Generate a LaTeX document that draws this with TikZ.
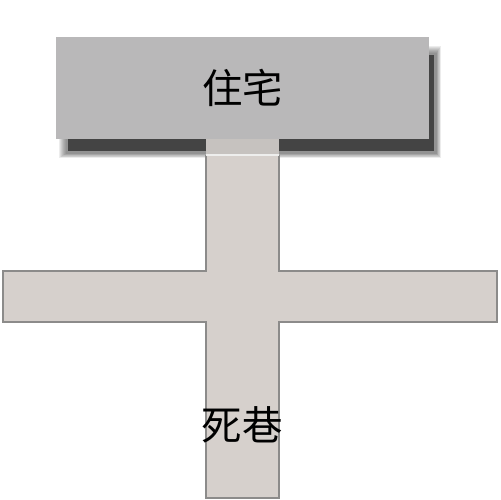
\documentclass[tikz,border=0pt]{standalone}
\usepackage{fontspec}
\newfontfamily\cjk{Noto Sans CJK SC}
\definecolor{housegray}{HTML}{B9B8B9}
\definecolor{shadowgray}{HTML}{444444}
\definecolor{lanefill}{HTML}{D6D0CC}
\definecolor{laneedge}{HTML}{8C8B8A}
\definecolor{neckfill}{HTML}{C6C2BF}
\tikzset{
  house/.style={fill=housegray, minimum width=7.46cm, minimum height=2.04cm, inner sep=0pt, font=\cjk\fontsize{23}{26}\selectfont},
  lanelabel/.style={inner sep=0pt, font=\cjk\fontsize{23}{26}\selectfont}
}
\begin{document}
\begin{tikzpicture}[x=0.02cm,y=-0.02cm]
\useasboundingbox (0,0) rectangle (500,500);
% shadow of the house
\foreach \d in {1,...,8}
  \fill[shadowgray, opacity=0.1] (67-\d,54-\d) rectangle (436+0.6*\d,153+0.6*\d);
\fill[shadowgray] (68,55) rectangle (434,151);
% the lane
\fill[neckfill] (206,139) rectangle (279,155);
\fill[lanefill] (206,155) -- (279,155) -- (279,271) -- (497,271) -- (497,322) -- (279,322)
  -- (279,498) -- (206,498) -- (206,322) -- (3,322) -- (3,271) -- (206,271) -- cycle;
\draw[laneedge, line width=1.1pt] (279,155) -- (279,271) -- (497,271) -- (497,322) -- (279,322)
  -- (279,498) -- (206,498) -- (206,322) -- (3,322) -- (3,271) -- (206,271) -- (206,155);
\draw[white!85!laneedge, line width=0.6pt] (206,155) -- (279,155);
% the house
\node[house] (home) at (242.5,88) {住宅};
\node[lanelabel] (deadend) at (242,425) {死巷};
\end{tikzpicture}
\end{document}
